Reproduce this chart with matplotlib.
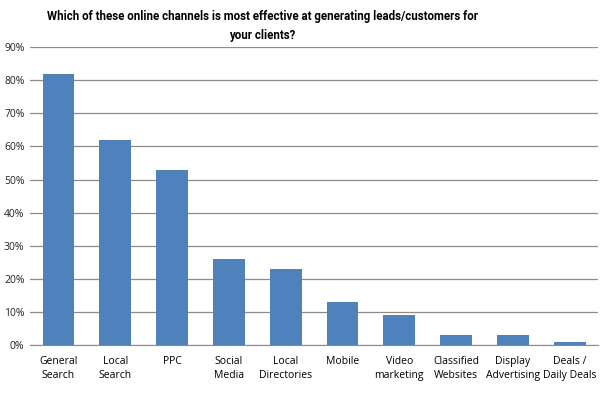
import matplotlib
matplotlib.use("Agg")
import matplotlib.pyplot as plt
from matplotlib.ticker import PercentFormatter

categories = ["General\nSearch", "Local\nSearch", "PPC", "Social\nMedia", "Local\nDirectories",
              "Mobile", "Video\nmarketing", "Classified\nWebsites", "Display\nAdvertising", "Deals /\nDaily Deals"]
values = [82, 62, 53, 26, 23, 13, 9, 3, 3, 1]
yticks = [0, 10, 20, 30, 40, 50, 60, 70, 80, 90]

plt.rcParams['font.family'] = ['Open Sans', 'DejaVu Sans']

fig = plt.figure(figsize=(6, 3.93), dpi=100)
ax = fig.add_axes([0.05, 0.122, 0.947, 0.758])
x = list(range(len(categories)))
ax.bar(x, values, width=0.56, color="#4F81BD", zorder=3)
ax.set_xlim(-0.5, len(categories) - 0.5)
ax.set_ylim(0, 90)
ax.set_yticks(yticks)
ax.yaxis.set_major_formatter(PercentFormatter(decimals=0))
ax.grid(axis="y", color="#8c8c8c", linewidth=0.9, zorder=0)
for s in ["top", "right", "left"]:
    ax.spines[s].set_visible(False)
ax.spines["bottom"].set_color("#8c8c8c")
ax.set_xticks(x)
ax.set_xticklabels(categories, fontsize=7.5, linespacing=1.4)
ax.tick_params(axis="x", length=0, pad=8)
ax.tick_params(axis="y", length=0, labelsize=7.5, pad=4, labelcolor="#222222")
fig.text(0.437, 0.975,
         "Which of these online channels is most effective at generating leads/customers for\nyour clients?",
         fontsize=8.3, fontweight="bold", ha="center", va="top", linespacing=1.65,
         family=['Roboto', 'DejaVu Sans'])
fig.savefig("out.png", dpi=100)
